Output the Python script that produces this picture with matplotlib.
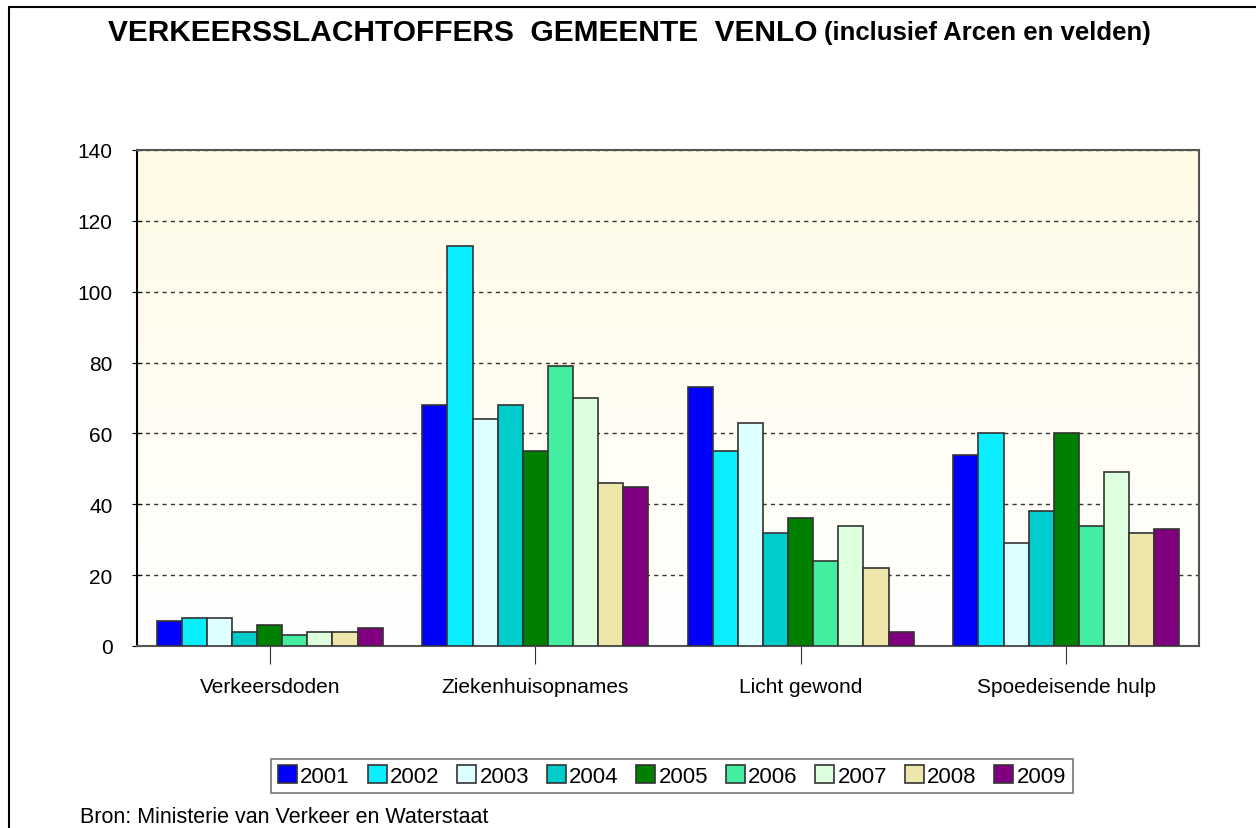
import numpy as np
import matplotlib
matplotlib.use("Agg")
import matplotlib.pyplot as plt
from matplotlib.patches import Rectangle

plt.rcParams['font.family'] = ['Liberation Sans', 'DejaVu Sans']

categories = ['Verkeersdoden', 'Ziekenhuisopnames', 'Licht gewond', 'Spoedeisende hulp']
years = ['2001', '2002', '2003', '2004', '2005', '2006', '2007', '2008', '2009']

# values per year, in category order
v2001 = [7, 68, 73, 54]
v2002 = [8, 113, 55, 60]
v2003 = [8, 64, 63, 29]
v2004 = [4, 68, 32, 38]
v2005 = [6, 55, 36, 60]
v2006 = [3, 79, 24, 34]
v2007 = [4, 70, 34, 49]
v2008 = [4, 46, 22, 32]
v2009 = [5, 45, 4, 33]
series = [v2001, v2002, v2003, v2004, v2005, v2006, v2007, v2008, v2009]

colors = ['#0000FF', '#0AEEFF', '#DDFFFF', '#00CCCC', '#008000',
          '#44EEA0', '#DDFFDD', '#EEE6AA', '#800080']

fig = plt.figure(figsize=(12.56, 8.29), dpi=100)
ax = fig.add_axes([137 / 1256, 1 - 647 / 829, (1199 - 137) / 1256, (647 - 151) / 829])

# light yellow gradient background
grad = np.linspace(0, 1, 256).reshape(-1, 1)
bg = matplotlib.colors.LinearSegmentedColormap.from_list('bg', ['#FFFFFF', '#FFFBE6'])
ax.imshow(grad, cmap=bg, aspect='auto', extent=[-0.5, 3.5, 0, 140],
          origin='lower', zorder=0)

x = np.arange(len(categories))
n = len(years)
width = 0.85 / n
for i in range(n):
    ax.bar(x + (i - (n - 1) / 2) * width, series[i], width, color=colors[i],
           edgecolor='#333333', linewidth=1.2, label=years[i], zorder=3)

ax.set_xlim(-0.5, 3.5)
ax.set_ylim(0, 140)
ax.set_yticks(range(0, 141, 20))
ax.yaxis.grid(True, linestyle=(0, (3, 3)), color='#333333', linewidth=1, zorder=1)
ax.set_axisbelow(True)
ax.set_xticks(x)
ax.set_xticklabels(categories, fontsize=15)
ax.tick_params(axis='x', length=13, direction='out', pad=9, color='#333333')
ax.tick_params(axis='y', length=7, direction='inout', labelsize=15, pad=14)
for s in ['top', 'right']:
    ax.spines[s].set_color('#555555')
    ax.spines[s].set_linewidth(1.5)
ax.spines['left'].set_linewidth(1.5)
ax.spines['bottom'].set_color('#555555')
ax.spines['bottom'].set_linewidth(1.5)

leg = fig.legend(loc='center', bbox_to_anchor=(672 / 1256, 1 - 777 / 829), ncol=9,
                 fontsize=16, frameon=True, fancybox=False, edgecolor='#555555',
                 handlelength=0.85, handleheight=0.85, handletextpad=0.15,
                 columnspacing=0.8, borderpad=0.3)
leg.get_frame().set_linewidth(1.2)

# title in two parts, second part a bit smaller
t1 = fig.text(108 / 1256, 1 - 33 / 829, 'VERKEERSSLACHTOFFERS  GEMEENTE  VENLO',
              fontsize=21.5, fontweight='bold', ha='left', va='center')
fig.canvas.draw()
bb = t1.get_window_extent()
fig.text(bb.x1 / 1256 + 6 / 1256, 1 - 33 / 829, '(inclusief Arcen en velden)',
         fontsize=18.5, fontweight='bold', ha='left', va='center')

fig.text(80 / 1256, 1 - 818 / 829, 'Bron: Ministerie van Verkeer en Waterstaat',
         fontsize=15.5, va='center')

# outer frame of the chart
fig.patches.append(Rectangle((9 / 1256, -0.01), 1.2, 1 - 8 / 829 + 0.01,
                             transform=fig.transFigure, fill=False,
                             edgecolor='black', linewidth=1.5))

fig.savefig('out.png', dpi=100)
